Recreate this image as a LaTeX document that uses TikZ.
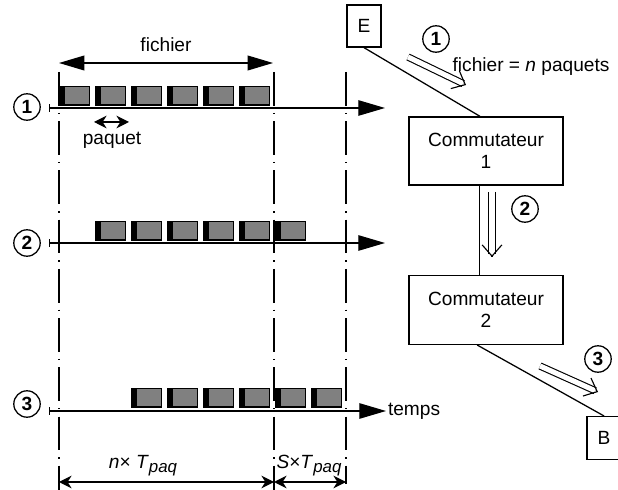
\documentclass[tikz,border=0pt]{standalone}
\usepackage{fontspec}
\setmainfont{Liberation Sans}
\usetikzlibrary{arrows.meta,calc}
\definecolor{gristrame}{RGB}{128,128,128}
\newcommand{\indpaq}{\raisebox{-0.4ex}{\fontsize{12}{13}\selectfont\itshape paq}}

\begin{document}
\begin{tikzpicture}[x=0.025cm, y=-0.025cm, line width=0.9pt,
  font=\fontsize{13.6}{16}\selectfont,
  boite/.style={draw, align=center, inner sep=0pt},
  rond/.style={draw, circle, minimum size=0.66cm, inner sep=0pt, font=\fontsize{13.6}{16}\selectfont\bfseries},
  axe/.style={{Bar[width=5pt]}-{Triangle[length=19pt,width=11pt]}},
  repere/.style={dash pattern=on 24pt off 5pt on 1pt off 5pt},
  cote/.style={{Stealth[length=9pt,width=9pt]}-{Stealth[length=9pt,width=9pt]}},
  flux/.style={double, double distance=3.6pt, line width=0.8pt, shorten >=2.2pt},
  pointe/.style={line width=0.8pt, -{Straight Barb[length=8pt,width=14pt]}}]
\useasboundingbox (0,0) rectangle (618,490);

% reperes verticaux
\draw[repere] (59,72) -- (59,490);
\draw[repere] (274,72) -- (274,490);
\draw[repere] (346,72) -- (346,484);

% taille du fichier
\coordinate (f1) at (59,63);
\coordinate (f2) at (273,63);
\draw[{Triangle[length=18pt,width=10.5pt]}-{Triangle[length=18pt,width=10.5pt]}] (f1) -- (f2);
\node (fich) at (166,45) {fichier};

% paquets sur chaque lien
\foreach \y/\x in {86/59, 221/95, 388/131} {
  \foreach \k in {0,...,5} {
    \fill (\x+36*\k,\y) rectangle ++(31,20);
    \fill[gristrame] (\x+36*\k+6,\y+1.5) rectangle ++(23.5,17);
  }
}

% axes des temps
\coordinate (d1) at (49,108); \coordinate (e1) at (385,108);
\coordinate (d2) at (49,243); \coordinate (e2) at (385,243);
\coordinate (d3) at (49,411); \coordinate (e3) at (386,411);
\draw[axe] (d1) -- (e1);
\draw[axe] (d2) -- (e2);
\draw[axe] (d3) -- (e3);
\node[anchor=west, inner sep=1pt] (temps) at (e3) {temps};

\node[rond] (r1) at (27,107) {1};
\node[rond] (r2) at (27,243) {2};
\node[rond] (r3) at (27,404) {3};

% un paquet
\coordinate (p1) at (94,122);
\coordinate (p2) at (129,122);
\draw[cote] (p1) -- (p2);
\node (paq) at (112,140) {paquet};

% durees
\coordinate (b1) at (59,482);
\coordinate (b2) at (274,482);
\coordinate (b3) at (346,482);
\draw[cote] (b1) -- (b2);
\draw[cote] (b2) -- (b3);
\node (nT) at (143,466) {\textit{n}× \textit{T}\indpaq};
\node (sT) at (309,466) {\textit{S}×\textit{T}\indpaq};

% reseau
\node[boite, minimum width=0.85cm, minimum height=1.05cm] (E) at (364,26) {E};
\node[boite, minimum width=3.85cm, minimum height=1.7cm] (c1) at (486,151) {Commutateur\\1};
\node[boite, minimum width=3.85cm, minimum height=1.72cm] (c2) at (486,310) {Commutateur\\2};
\node[boite, minimum width=0.85cm, minimum height=1.07cm] (B) at (604,438) {B};

\draw (E.south) -- ([xshift=-0.15cm]c1.north);
\draw ([xshift=-0.17cm]c1.south) -- ([xshift=-0.17cm]c2.north);
\draw ([xshift=-0.22cm]c2.south) -- (B.north);

% sens de transmission
\node[rond] (s1) at (436,39) {1};
\node[rond] (s2) at (525,209) {2};
\node[rond] (s3) at (598,359) {3};
\coordinate (g1) at (408,57); \coordinate (h1) at (466,85);
\coordinate (g2) at (492,192); \coordinate (h2) at (492,257);
\coordinate (g3) at (540,366); \coordinate (h3) at (598,392);
\draw[flux] (g1) -- (h1);
\draw[flux] (g2) -- (h2);
\draw[flux] (g3) -- (h3);
\draw[pointe] ($(h1)!0.5pt!(g1)$) -- (h1);
\draw[pointe] ($(h2)!0.5pt!(g2)$) -- (h2);
\draw[pointe] ($(h3)!0.5pt!(g3)$) -- (h3);
\node[anchor=west, inner sep=0pt] (nfich) at (452,67) {fichier = \textit{n} paquets};
\end{tikzpicture}
\end{document}
